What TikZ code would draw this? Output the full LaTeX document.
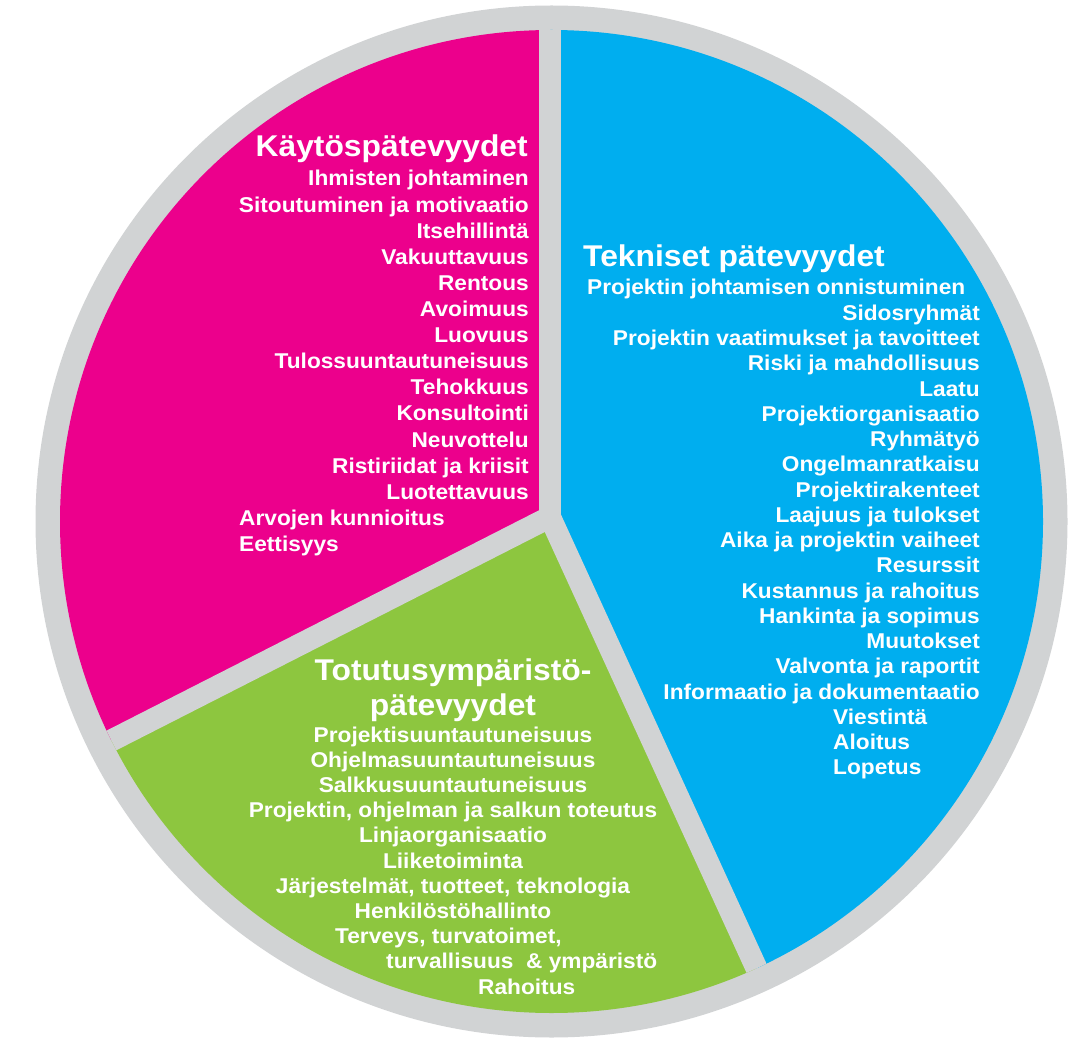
\documentclass[tikz,border=0pt]{standalone}
\usepackage{fontspec}
\newfontfamily\lab[FakeStretch=1.06]{Liberation Sans}
\definecolor{pmag}{RGB}{236,0,140}
\definecolor{pblue}{RGB}{0,174,239}
\definecolor{pgreen}{RGB}{141,198,63}
\definecolor{ringgray}{RGB}{209,211,212}
\begin{document}
\begin{tikzpicture}[x=1pt,y=-1pt,
  item/.style={text=white,inner sep=0pt,font=\lab\bfseries\fontsize{21.4}{24}\selectfont},
  ttl/.style={text=white,inner sep=0pt,font=\lab\bfseries\fontsize{30}{34}\selectfont},
  sep/.style={draw=ringgray,line width=22pt,line cap=round}]
\useasboundingbox (0,0) rectangle (1082,1059);
\coordinate (O) at (551.5,521.5);
\coordinate (C) at (550,517);
\fill[ringgray] (O) circle[radius=516];
\begin{scope}
  \clip (O) circle[radius=491.5];
  \fill[pmag] (C) -- (550,-300) -- (-300,-300) -- (-296,948) -- cycle;
  \fill[pgreen] (C) -- (-296,948) -- (-300,1426) -- (966,1426) -- cycle;
  \fill[pblue] (C) -- (966,1426) -- (1400,1426) -- (1400,-300) -- (550,-300) -- cycle;
  \draw[sep] (C) -- ++(0,-560);
  \draw[sep] (C) -- ++(-0.891*560,0.454*560);
  \draw[sep] (C) -- ++(0.416*560,0.909*560);
\end{scope}
% magenta
\node[ttl,anchor=base east] (mt) at (528,157) {Käytöspätevyydet};
\node[item,anchor=base east] (m1) at (529,186) {Ihmisten johtaminen};
\node[item,anchor=base east] (m2) at (529,212.1) {Sitoutuminen ja motivaatio};
\node[item,anchor=base east] (m3) at (529,238.2) {Itsehillintä};
\node[item,anchor=base east] (m4) at (529,264.3) {Vakuuttavuus};
\node[item,anchor=base east] (m5) at (529,290.4) {Rentous};
\node[item,anchor=base east] (m6) at (529,316.5) {Avoimuus};
\node[item,anchor=base east] (m7) at (529,342.6) {Luovuus};
\node[item,anchor=base east] (m8) at (529,368.7) {Tulossuuntautuneisuus};
\node[item,anchor=base east] (m9) at (529,394.8) {Tehokkuus};
\node[item,anchor=base east] (m10) at (529,420.9) {Konsultointi};
\node[item,anchor=base east] (m11) at (529,447) {Neuvottelu};
\node[item,anchor=base east] (m12) at (529,473.1) {Ristiriidat ja kriisit};
\node[item,anchor=base east] (m13) at (529,499.2) {Luotettavuus};
\node[item,anchor=base west] (m14) at (239,525.3) {Arvojen kunnioitus};
\node[item,anchor=base west] (m15) at (239,551.4) {Eettisyys};
% blue
\node[ttl,anchor=base west] (bt) at (583,267) {Tekniset pätevyydet};
\node[item,anchor=base west] (b1) at (587,295) {Projektin johtamisen onnistuminen};
\node[item,anchor=base east] (b2) at (980,320.25) {Sidosryhmät};
\node[item,anchor=base east] (b3) at (980,345.5) {Projektin vaatimukset ja tavoitteet};
\node[item,anchor=base east] (b4) at (980,370.75) {Riski ja mahdollisuus};
\node[item,anchor=base east] (b5) at (980,396) {Laatu};
\node[item,anchor=base east] (b6) at (980,421.25) {Projektiorganisaatio};
\node[item,anchor=base east] (b7) at (980,446.5) {Ryhmätyö};
\node[item,anchor=base east] (b8) at (980,471.75) {Ongelmanratkaisu};
\node[item,anchor=base east] (b9) at (980,497) {Projektirakenteet};
\node[item,anchor=base east] (b10) at (980,522.25) {Laajuus ja tulokset};
\node[item,anchor=base east] (b11) at (980,547.5) {Aika ja projektin vaiheet};
\node[item,anchor=base east] (b12) at (980,572.75) {Resurssit};
\node[item,anchor=base east] (b13) at (980,598) {Kustannus ja rahoitus};
\node[item,anchor=base east] (b14) at (980,623.25) {Hankinta ja sopimus};
\node[item,anchor=base east] (b15) at (980,648.5) {Muutokset};
\node[item,anchor=base east] (b16) at (980,673.75) {Valvonta ja raportit};
\node[item,anchor=base east] (b17) at (980,699) {Informaatio ja dokumentaatio};
\node[item,anchor=base west] (b18) at (833,724.25) {Viestintä};
\node[item,anchor=base west] (b19) at (833,749.5) {Aloitus};
\node[item,anchor=base west] (b20) at (833,774.75) {Lopetus};
% green
\node[ttl,anchor=base] (gt1) at (453,680) {Totutusympäristö-};
\node[ttl,anchor=base] (gt2) at (453,715) {pätevyydet};
\node[item,anchor=base] (g1) at (453,742) {Projektisuuntautuneisuus};
\node[item,anchor=base] (g2) at (453,767.2) {Ohjelmasuuntautuneisuus};
\node[item,anchor=base] (g3) at (453,792.4) {Salkkusuuntautuneisuus};
\node[item,anchor=base] (g4) at (453,817.6) {Projektin, ohjelman ja salkun toteutus};
\node[item,anchor=base] (g5) at (453,842.8) {Linjaorganisaatio};
\node[item,anchor=base] (g6) at (453,868) {Liiketoiminta};
\node[item,anchor=base] (g7) at (453,893.2) {Järjestelmät, tuotteet, teknologia};
\node[item,anchor=base] (g8) at (453,918.4) {Henkilöstöhallinto};
\node[item,anchor=base west] (g9) at (335,943.6) {Terveys, turvatoimet,};
\node[item,anchor=base west] (g10) at (386,968.8) {turvallisuus\ \ \& ympäristö};
\node[item,anchor=base west] (g11) at (478,994) {Rahoitus};
\end{tikzpicture}
\end{document}
